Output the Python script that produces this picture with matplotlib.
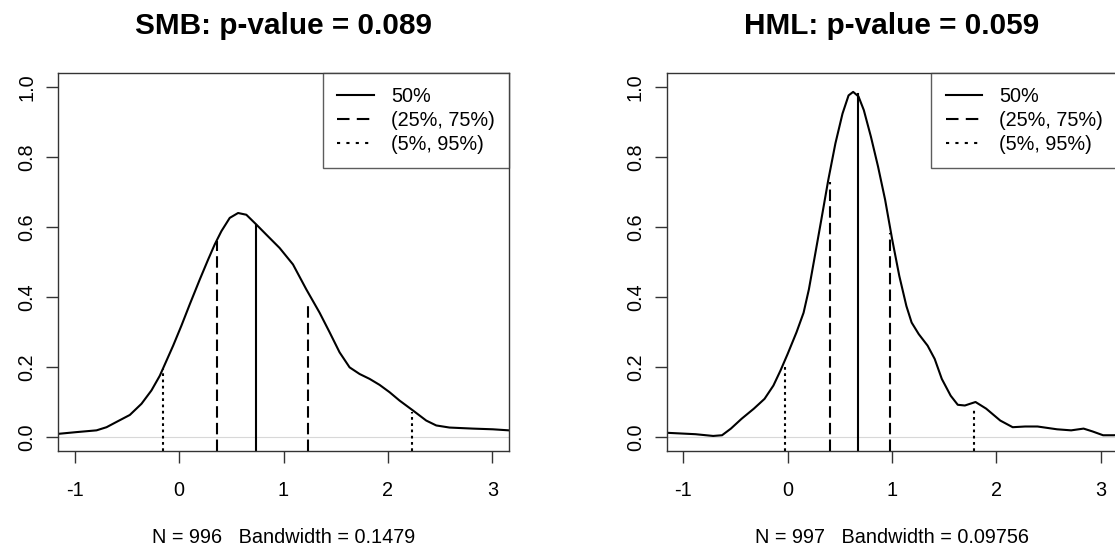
'''
Densidades de SMB e HML com quantis
'''

import matplotlib
matplotlib.use('Agg')
import matplotlib.pyplot as plt

plt.rcParams['font.family'] = ['Liberation Sans', 'DejaVu Sans']
plt.rcParams['axes.unicode_minus'] = False

# densidade SMB
smb_x = [-1.158, -0.982, -0.791, -0.695, -0.600, -0.472, -0.360, -0.265, -0.185, -0.121,
         -0.057, 0.022, 0.102, 0.198, 0.278, 0.341, 0.405, 0.485, 0.565, 0.644,
         0.740, 0.836, 0.963, 1.091, 1.218, 1.346, 1.442, 1.537, 1.633, 1.729,
         1.825, 1.920, 2.016, 2.112, 2.239, 2.367, 2.463, 2.590, 2.813, 3.005, 3.158]
smb_y = [0.009, 0.014, 0.019, 0.028, 0.043, 0.063, 0.095, 0.133, 0.175, 0.218,
         0.261, 0.318, 0.379, 0.450, 0.507, 0.550, 0.588, 0.626, 0.640, 0.635,
         0.607, 0.578, 0.540, 0.493, 0.422, 0.355, 0.299, 0.242, 0.199, 0.180,
         0.166, 0.149, 0.128, 0.104, 0.076, 0.047, 0.033, 0.027, 0.024, 0.022, 0.019]
smb_q = [-0.153, 0.36, 0.74, 1.235, 2.234]
smb_qh = [0.194, 0.56, 0.607, 0.389, 0.071]

# densidade HML
hml_x = [-1.155, -0.883, -0.713, -0.628, -0.543, -0.441, -0.323, -0.221, -0.136, -0.068,
         0.0, 0.085, 0.153, 0.204, 0.255, 0.323, 0.390, 0.458, 0.526, 0.584,
         0.628, 0.679, 0.730, 0.798, 0.866, 0.934, 1.002, 1.070, 1.138, 1.188,
         1.256, 1.341, 1.409, 1.477, 1.562, 1.630, 1.698, 1.800, 1.902, 2.037,
         2.156, 2.275, 2.394, 2.581, 2.716, 2.835, 2.920, 3.022, 3.124, 3.26]
hml_y = [0.012, 0.008, 0.003, 0.005, 0.024, 0.052, 0.081, 0.109, 0.147, 0.190,
         0.237, 0.299, 0.355, 0.422, 0.507, 0.621, 0.735, 0.839, 0.924, 0.976,
         0.986, 0.973, 0.934, 0.858, 0.773, 0.678, 0.564, 0.460, 0.374, 0.327,
         0.294, 0.261, 0.223, 0.166, 0.118, 0.092, 0.090, 0.100, 0.081, 0.047,
         0.028, 0.030, 0.030, 0.022, 0.019, 0.024, 0.016, 0.005, 0.005, 0.007]
hml_q = [-0.027, 0.407, 0.679, 0.985, 1.783]
hml_qh = [0.199, 0.73, 0.98, 0.583, 0.081]

titles = ['SMB: p-value = 0.089', 'HML: p-value = 0.059']
subs = ['N = 996   Bandwidth = 0.1479', 'N = 997   Bandwidth = 0.09756']
leg_labels = ['50%', '(25%, 75%)', '(5%, 95%)']

DASH = (0, (5.5, 2.5))
DOT = (0, (1.3, 1.7))
FS = 14.3


def draw_panel(ax, x, y, q, qh, title, sub):
    ax.axhline(0, color='#d8d8d8', lw=0.8, zorder=1)
    ax.plot(x, y, color='black', lw=1.5)
    styles = [DOT, DASH, '-', DASH, DOT]
    for xi, hi, ls in zip(q, qh, styles):
        ax.plot([xi, xi], [-0.04, hi], color='black', lw=1.5, linestyle=ls)
    ax.set_xlim(-1.16, 3.16)
    ax.set_ylim(-0.04, 1.04)
    ax.set_xticks([-1, 0, 1, 2, 3])
    ax.set_yticks([0, 0.2, 0.4, 0.6, 0.8, 1.0])
    ax.set_yticklabels(['0.0', '0.2', '0.4', '0.6', '0.8', '1.0'])
    ax.tick_params(axis='both', labelsize=FS, length=8.5, width=1.0, color='#333333')
    ax.tick_params(axis='x', pad=13)
    ax.tick_params(axis='y', pad=7, labelrotation=90)
    for lab in ax.get_yticklabels():
        lab.set_verticalalignment('center')
    for sp in ax.spines.values():
        sp.set_linewidth(1.0)
        sp.set_color('#333333')
    ax.set_title(title, fontsize=21.4, fontweight='bold', pad=28)
    ax.set_xlabel(sub, fontsize=FS, labelpad=20)
    handles = [plt.Line2D([], [], color='black', lw=1.5, linestyle=s)
               for s in ['-', (0, (6, 3.5)), (0, (1.5, 3))]]
    leg = ax.legend(handles, leg_labels, loc='upper right', fontsize=FS,
                    frameon=True, fancybox=False, borderaxespad=0,
                    handlelength=1.86, handletextpad=0.85, labelspacing=0.24,
                    borderpad=0.72)
    leg.get_frame().set_edgecolor('#333333')
    leg.get_frame().set_linewidth(1.0)


fig = plt.figure(figsize=(11.15, 5.5), dpi=100)
ax1 = fig.add_axes([58 / 1115, 99 / 550, 451 / 1115, 378 / 550])
ax2 = fig.add_axes([666.5 / 1115, 99 / 550, 451 / 1115, 378 / 550])

draw_panel(ax1, smb_x, smb_y, smb_q, smb_qh, titles[0], subs[0])
draw_panel(ax2, hml_x, hml_y, hml_q, hml_qh, titles[1], subs[1])

fig.savefig('out.png', dpi=100)
